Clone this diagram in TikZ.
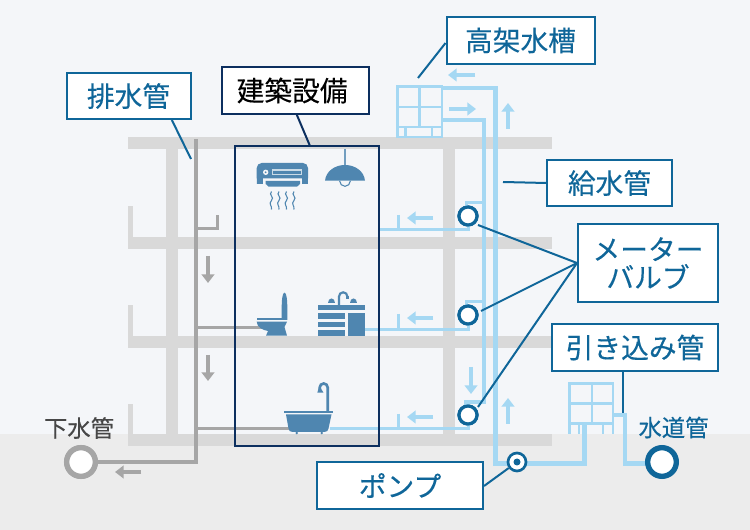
\documentclass[tikz,border=0pt]{standalone}
\usepackage{fontspec}
\setmainfont{Noto Sans CJK JP}[FakeBold=0.25]
\usetikzlibrary{arrows.meta}
\definecolor{pagebg}{HTML}{F4F6F9}
\definecolor{groundbg}{HTML}{ECECEC}
\definecolor{slabgrey}{HTML}{D9D9D9}
\definecolor{drain}{HTML}{A6A6A6}
\definecolor{supply}{HTML}{A5D8F3}
\definecolor{tagblue}{HTML}{0F6699}
\definecolor{navy}{HTML}{0C2F5F}
\definecolor{fixture}{HTML}{4F86B0}
\tikzset{
  x=0.75pt,y=-0.75pt,
  slab/.style={fill=slabgrey,draw=none},
  drainpipe/.style={draw=drain,line width=3.2pt,line cap=butt,line join=miter},
  drainthin/.style={draw=drain,line width=2.25pt,line join=miter},
  mainpipe/.style={draw=supply,line width=3.5pt,line join=miter},
  branchpipe/.style={draw=supply,line width=2.6pt,line join=miter},
  tankline/.style={draw=supply,line width=1.7pt},
  tag/.style={draw=tagblue,line width=1.5pt,fill=white,text=tagblue,font=\fontsize{20.8pt}{25pt}\selectfont,inner sep=0pt,align=center},
  leader/.style={draw=tagblue,line width=1.5pt},
  valve/.style={circle,draw=tagblue,line width=2.4pt,fill=white,minimum size=13.5pt,inner sep=0pt},
  flowsupply/.style={draw=supply,line width=3pt,-{Triangle[length=6.5pt,width=9.5pt]}},
  flowdrain/.style={draw=drain,line width=3pt,-{Triangle[length=6.5pt,width=9.5pt]}},
  outlet/.style={circle,line width=4pt,fill=white,minimum size=21.5pt,inner sep=0pt},
  icon/.style={fill=fixture,draw=none},
  iconline/.style={draw=fixture,fill=none,line cap=round},
  wave/.style={draw=fixture,line width=0.8pt,fill=none},
}
\begin{document}
\begin{tikzpicture}
\useasboundingbox (0,0) rectangle (750,530);
% sky and ground
\fill[pagebg] (0,0) rectangle (750,530);
\fill[groundbg] (0,434) rectangle (750,530);

% building frame
\foreach \y in {137,237,336,434} \fill[slab] (128,\y) rectangle (552,\y+12);
\fill[slab] (166,137) rectangle (178,446);
\fill[slab] (443,137) rectangle (455,446);
\fill[slab] (128,206) rectangle (133,240);
\fill[slab] (128,305) rectangle (133,340);
\fill[slab] (128,404) rectangle (133,440);

% drainage
\coordinate (drainTop) at (196,139);
\coordinate (drainElbow) at (196,462);
\draw[drainthin] (198,229) -- (217.5,229) -- (217.5,215);
\draw[drainthin] (198,328) -- (262,328);
\draw[drainthin] (198,428.5) -- (290,428.5);
\draw[flowdrain] (208,256) -- (208,283);
\draw[flowdrain] (208,355) -- (208,381);
\draw[flowdrain] (141,472) -- (115,472);

% elevated tank
\begin{scope}[tankline]
  \draw (397.5,86.5) rectangle (442,137);
  \draw (419.5,86.5) -- (419.5,127);
  \draw (397.5,107) -- (442,107);
  \draw (397.5,127) -- (442,127);
  \draw (405.5,127) -- (405.5,137);
  \draw (432,127) -- (432,137);
\end{scope}

% receiving tank
\begin{scope}[tankline]
  \draw (569.5,434) -- (569.5,383.5) -- (613,383.5) -- (613,434);
  \draw (592,383.5) -- (592,423);
  \draw (569.5,403.5) -- (613,403.5);
  \draw (569.5,423.5) -- (613,423.5);
  \draw (579,423.5) -- (579,434);
  \draw (603,423.5) -- (603,434);
\end{scope}

% supply mains
\node[valve] (valveA) at (468,216) {};
\node[valve] (valveB) at (468,315) {};
\node[valve] (valveC) at (468,415) {};
\coordinate (tankA) at (442,88);
\coordinate (tankB) at (442,120);
\draw[mainpipe] (tankB) -- (484,120) -- (484,402) -- (466.5,402) -- (466.5,407);
\draw[mainpipe] (tankA) -- (495.7,88) -- (495.7,463.5) -- (584.5,463.5) -- (584.5,425);
\draw[mainpipe] (614,415) -- (625,415) -- (625,463.5) -- (650,463.5);

% floor branches
\draw[branchpipe] (484,202.5) -- (466.5,202.5) -- (466.5,209);
\draw[branchpipe] (484,301.5) -- (466.5,301.5) -- (466.5,308);
\draw[branchpipe] (468.5,224) -- (468.5,229.5) -- (379,229.5);
\draw[branchpipe] (398.5,215) -- (398.5,229.5);
\draw[branchpipe] (468.5,323) -- (468.5,329.5) -- (365,329.5);
\draw[branchpipe] (398.5,314) -- (398.5,329.5);
\draw[branchpipe] (468.5,423) -- (468.5,428.5) -- (330,428.5);
\draw[branchpipe] (398.5,414) -- (398.5,428.5);

% flow arrows on the supply side
\draw[flowsupply] (475,75) -- (448,75);
\draw[flowsupply] (449,109) -- (476,109);
\draw[flowsupply] (508,129) -- (508,103);
\draw[flowsupply] (433,218) -- (407,218);
\draw[flowsupply] (433,318) -- (407,318);
\draw[flowsupply] (433,417) -- (407,417);
\draw[flowsupply] (471,367) -- (471,394);
\draw[flowsupply] (508,424) -- (508,398);

% valves sit over the branches
\node[valve] at (valveA) {};
\node[valve] at (valveB) {};
\node[valve] at (valveC) {};

% air conditioner (the y axis points down, so angles above the centre are 180 to 360)
\path[icon] (256.7,184) -- (256.7,168) arc[start angle=180,end angle=270,radius=5] -- (303,163) arc[start angle=270,end angle=360,radius=5] -- (308,178.5) -- (256.7,178.5) -- cycle;
\path[icon] (256.7,178) rectangle (262.5,184);
\path[icon] (302,178) rectangle (308,184);
\fill[white!70!fixture] (272,169.5) rectangle (302,175);
\fill[fixture] (273.2,170.7) rectangle (300.8,173.8);
\fill[pagebg] (265.7,172.3) circle[radius=2.7];
\fill[fixture] (265.7,172.3) circle[radius=1];
\path[icon] (265.7,181) -- (300,181) -- (300,184) -- (297,186.7) -- (268.7,186.7) -- (265.7,184) -- cycle;
\foreach \x in {271.5,279,286.5,294}
  \draw[wave] (\x,191.5) .. controls (\x-3.5,195) and (\x+3.5,197) .. (\x,200.5) .. controls (\x-3.5,204) and (\x+1,206) .. (\x,209.5);

% pendant lamp
\draw[iconline,line width=1.5pt,draw=fixture!80,line cap=butt] (345,149) -- (345,166);
\path[icon] (325,180.7) .. controls (326,171) and (335,165) .. (345,165) .. controls (355,165) and (364,171) .. (365,180.7) -- cycle;
\draw[iconline,line width=0.8pt] (339.7,181) arc[start angle=180,end angle=0,radius=5.3];

% toilet
\path[icon] (284.5,292.7) .. controls (282.5,292.7) and (281.7,300) .. (281.7,306) -- (281.7,320) -- (287.3,320) -- (287.3,306) .. controls (287.3,300) and (286.5,292.7) .. (284.5,292.7) -- cycle;
\fill[fixture] (256.7,317.7) rectangle (287,319.6);
\path[icon] (256.7,321.7) -- (287,321.7) -- (284.5,327) -- (287,335.7) -- (266,335.7) -- (268,331) .. controls (262,330) and (257,327) .. (256.7,321.7) -- cycle;

% vanity unit
\fill[fixture] (318.3,305) rectangle (365,310.3);
\fill[fixture] (318.3,313.3) rectangle (345,319.3);
\fill[fixture] (318.3,322) rectangle (345,327.3);
\fill[fixture] (318.3,330.3) rectangle (345,335.7);
\fill[fixture] (348,313.3) rectangle (365,335.7);
\draw[iconline,line width=1.6pt,line cap=butt] (339,305) -- (339,296.5) arc[start angle=180,end angle=360,radius=4.2] -- (347.4,297);
\fill[fixture] (345.8,296.5) rectangle (349,299);
\path[icon] (328,303.4) .. controls (328,297.5) and (334.5,297.5) .. (334.5,303.4) -- cycle;
\path[icon] (350,303.4) .. controls (350,297.5) and (356.5,297.5) .. (356.5,303.4) -- cycle;

% bathtub
\fill[fixture] (284,410.7) rectangle (333,413.3);
\path[icon] (286,414.5) -- (331.5,414.5) -- (328.5,428.5) .. controls (328,431) and (327,431.8) .. (325,431.8) -- (292,431.8) .. controls (290,431.8) and (289,431) .. (288.5,428.5) -- cycle;
\fill[fixture] (296.7,433) circle[radius=1.4];
\fill[fixture] (321.7,433) circle[radius=1.4];
\draw[iconline,line width=2pt,line cap=butt] (327.7,411) -- (327.7,387.5) arc[start angle=0,end angle=-180,radius=4] -- (319.7,389.5);
\path[icon] (318.5,388.5) -- (321,388.5) -- (323.5,392.7) -- (317.3,392.7) -- cycle;

% equipment enclosure
\draw[navy,line width=1.5pt] (235,146) rectangle (378.5,446);

% drainage stack and sewer connection, in front of the frame
\node[outlet,draw=drain] (sewer) at (81,462) {};
\draw[drainpipe] (drainTop) -- (drainElbow) -- (sewer);
\node[outlet,draw=drain] at (sewer) {};

% water main and pump
\node[outlet,draw=tagblue] (main) at (662,462) {};
\node[circle,draw=tagblue,line width=2pt,fill=white,minimum size=13.5pt,inner sep=0pt] (pump) at (517,462) {};
\fill[tagblue] (pump) circle[radius=3.5];

% outdoor labels
\node[text=black!72,font=\fontsize{17.5pt}{20pt}\selectfont] (sewerlabel) at (79,428) {下水管};
\node[text=tagblue,font=\fontsize{17.5pt}{20pt}\selectfont] (mainlabel) at (673.5,427.5) {水道管};

% callout tags
\node[tag,minimum width=111pt,minimum height=35pt] (tagTank) at (520.5,40.5) {高架水槽};
\node[tag,minimum width=93pt,minimum height=34.5pt] (tagDrain) at (128.5,96) {排水管};
\node[tag,draw=navy,text=black,minimum width=110pt,minimum height=35pt] (tagEquip) at (295.5,90.5) {建築設備\hspace{5pt}};
\node[tag,minimum width=93.5pt,minimum height=34.5pt] (tagSupply) at (609.5,183) {給水管};
\node[tag,minimum width=105pt,minimum height=58pt,font=\fontsize{20.8pt}{21pt}\selectfont] (tagMeter) at (648,263) {メーター\\バルブ};
\node[tag,minimum width=124.5pt,minimum height=35pt] (tagIntake) at (635,347.5) {引き込み管};
\node[tag,minimum width=124.5pt,minimum height=35pt] (tagPump) at (400,485.5) {ポンプ};

% callout leaders
\coordinate (endTank) at (418,78);
\coordinate (endDrain) at (191,159);
\coordinate (endEquip) at (310,146);
\coordinate (endSupply) at (503,182);
\coordinate (endIntake) at (623,413);
\draw[leader] ([yshift=-1.9pt]tagTank.west) -- (endTank);
\draw[leader] ([xshift=32.5pt]tagDrain.south) -- (endDrain);
\draw[leader,draw=navy] ([xshift=1pt]tagEquip.south) -- (endEquip);
\draw[leader] (tagSupply.west) -- (endSupply);
\draw[leader] (tagMeter.west) -- (478,225);
\draw[leader] (tagMeter.west) -- (481,311);
\draw[leader] (tagMeter.west) -- (478,407);
\draw[leader] (tagIntake.south -| endIntake) -- (endIntake);
\draw[leader] ([yshift=-0.4pt]tagPump.east) -- (pump);
\end{tikzpicture}
\end{document}
